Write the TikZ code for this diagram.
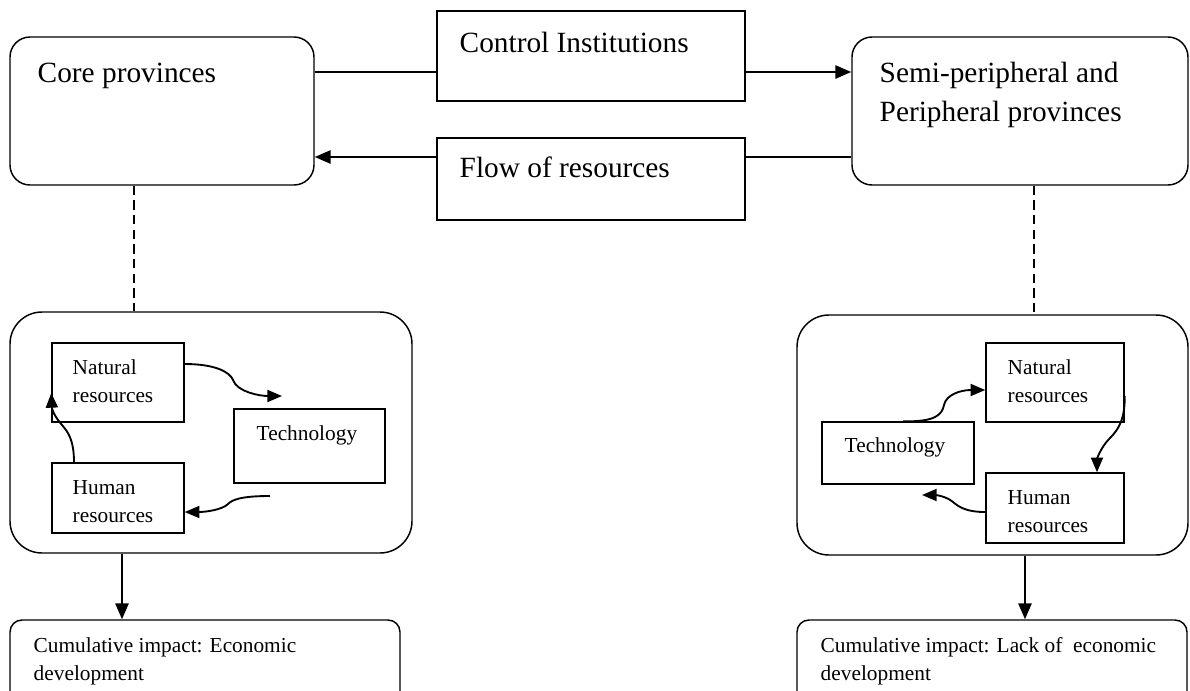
\documentclass[tikz,border=0pt]{standalone}
\usepackage{fontspec}
\setmainfont{Liberation Serif}
\usetikzlibrary{arrows.meta, fit}

\begin{document}
\begin{tikzpicture}[x=0.75pt, y=-0.75pt, line width=1.1pt,
	>={Triangle[length=12pt, width=10pt]},
	rbox/.style = {draw, inner sep=0pt, rounded corners=15pt},
	sbox/.style = {draw, inner sep=0pt},
	big/.style = {anchor=base west, inner sep=0pt, align=left,
		font=\fontsize{22}{29}\selectfont},
	small/.style = {anchor=base west, inner sep=0pt, align=left,
		font=\fontsize{16}{20.5}\selectfont},
	flow/.style = {line width=1.4pt, ->},
	loop/.style = {line width=1.4pt, -{Triangle[length=11pt, width=9pt]}}]
\useasboundingbox (0,0) rectangle (1190,690);

% top row (multi-line texts are placed at their last baseline)
\node[rbox, fit={(10,37) (314,185)}] (core) {};
\node[sbox, fit={(437,11) (745,101)}] (ctrl) {};
\node[sbox, fit={(437,138) (745,220)}] (flw) {};
\node[rbox, fit={(852,37) (1188,185)}] (semi) {};
\node[big] (core-txt) at (37,82) {Core provinces};
\node[big] (ctrl-txt) at (459,52) {Control Institutions};
\node[big] (flw-txt) at (459,177) {Flow of resources};
\node[big] (semi-txt) at (879,121) {Semi-peripheral and\\Peripheral provinces};

\draw (core.east |- 0,72) -- (ctrl.west |- 0,72);
\draw[flow] (ctrl.east |- 0,72) -- (semi.west |- 0,72);
\draw (semi.west |- 0,157) -- (flw.east |- 0,157);
\draw[flow] (flw.west |- 0,157) -- (core.east |- 0,157);

% left cycle
\node[rbox, rounded corners=24pt, fit={(10,312) (412,553)}] (lcyc) {};
\node[sbox, fit={(52,343) (184,422)}] (lnat) {};
\node[sbox, fit={(234,409) (385,483)}] (ltech) {};
\node[sbox, fit={(52,463) (184,533)}] (lhum) {};
\node[small] (lnat-txt) at (72,402) {Natural\\resources};
\node[small] (ltech-txt) at (256,440) {Technology};
\node[small] (lhum-txt) at (72,522) {Human\\resources};
\coordinate (ltech-in) at (282,396);
\coordinate (ltech-out) at (270,496);

\draw[loop] (lnat.east |- 0,364) .. controls (215,364) and (230,372) .. (233,380)
	.. controls (237,392) and (260,396) .. (ltech-in);
\draw[loop] (ltech-out) .. controls (240,496) and (232,500) .. (228,504)
	.. controls (222,510) and (205,512) .. (lhum.east |- 0,512);
\draw[loop] (lhum.north -| 74,0) .. controls (74,440) and (68,432) .. (62,425)
	.. controls (55,417) and (52,410) .. (lnat.west |- 0,393);

% right cycle
\node[rbox, rounded corners=24pt, fit={(797,315) (1188,555)}] (rcyc) {};
\node[sbox, fit={(822,422) (974,484)}] (rtech) {};
\node[sbox, fit={(986,343) (1124,422)}] (rnat) {};
\node[sbox, fit={(986,473) (1124,543)}] (rhum) {};
\node[small] (rnat-txt) at (1007,402) {Natural\\resources};
\node[small] (rtech-txt) at (844,452) {Technology};
\node[small] (rhum-txt) at (1007,532) {Human\\resources};
\coordinate (rtech-in) at (922,495);

\draw[loop] (rtech.north -| 903,0) .. controls (935,422) and (942,415) .. (944,405)
	.. controls (946,395) and (960,390) .. (rnat.west |- 0,390);
\draw[loop] (rnat.east |- 0,396) .. controls (1125,420) and (1118,430) .. (1110,438)
	.. controls (1100,448) and (1097,460) .. (rhum.north -| 1097,0);
\draw[loop] (rhum.west |- 0,512) .. controls (968,512) and (960,508) .. (953,502)
	.. controls (946,496) and (935,495) .. (rtech-in);

% links down
\draw[dash pattern=on 7pt off 4pt] (core.south -| 134,0) -- (lcyc.north -| 134,0);
\draw[dash pattern=on 7pt off 4pt] (semi.south -| 1034,0) -- (rcyc.north -| 1034,0);

\node[rbox, rounded corners=9pt, fit={(10,620) (400,710)}] (limp) {};
\node[rbox, rounded corners=9pt, fit={(797,620) (1187,710)}] (rimp) {};
\node[small] (limp-txt) at (33,680) {Cumulative impact: Economic\\development};
\node[small] (rimp-txt) at (820,680) {Cumulative impact: Lack of \ economic\\development};

\draw[flow] (lcyc.south -| 122,0) -- (limp.north -| 122,0);
\draw[flow] (rcyc.south -| 1025,0) -- (rimp.north -| 1025,0);
\end{tikzpicture}
\end{document}
